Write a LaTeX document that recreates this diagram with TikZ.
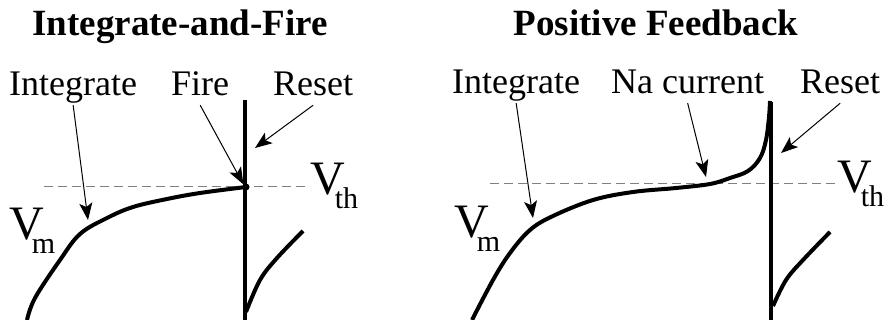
\documentclass[tikz,border=0pt]{standalone}
\usepackage{fontspec}
\setmainfont{Liberation Serif}
\usetikzlibrary{arrows.meta}

\newcommand{\vsub}[2]{V\kern#1\raisebox{-14pt}{\fontsize{30}{32}\selectfont #2}}

\begin{document}
\begin{tikzpicture}[x=1pt,y=-1pt,
  title/.style={font=\fontsize{37}{40}\selectfont\bfseries,inner sep=0pt,anchor=base},
  lbl/.style={font=\fontsize{36}{40}\selectfont,inner xsep=0pt,inner ysep=1pt,
    text depth=8pt,anchor=base west},
  vlbl/.style={font=\fontsize{48}{50}\selectfont,inner sep=0pt,anchor=base west},
  arrow/.style={-{Stealth[length=17pt,width=13pt,inset=4pt]},line width=1pt},
  trace/.style={line width=4pt},
  thresh/.style={gray,line width=1pt,dash pattern=on 9pt off 5pt}]
  \useasboundingbox (0,0) rectangle (885,320);

  % left panel
  \node[title] (tl) at (180,36) {Integrate-and-Fire};
  \draw[thresh] (44,187) -- (310,187);
  \draw[trace] plot[smooth,tension=0.6] coordinates
    {(27,320) (35,298) (60,260) (80,234) (107,218) (133,207) (167,199) (200,193) (246,187)};
  \draw[trace] (245,100) -- (245,320);
  \draw[trace] plot[smooth,tension=0.6] coordinates
    {(246,312) (260,280) (277,258) (303,231)};
  \node[circle,fill,inner sep=0pt,minimum size=7pt] (fire) at (246,187) {};
  \node[lbl] (il) at (9,96) {Integrate};
  \node[lbl] (fl) at (171,96) {Fire};
  \node[lbl] (rl) at (273,96) {Reset};
  \node[vlbl] (vml) at (9,240) {\vsub{-12pt}{m}};
  \node[vlbl] (vtl) at (310,195) {\vsub{-10pt}{th}};
  \coordinate (til) at (88,220);
  \coordinate (trl) at (255,148);
  \draw[arrow] (il.south) -- (til);
  \draw[arrow] (fl.south) -- (fire.north west);
  \draw[arrow] (rl.south) -- (trl);

  % right panel
  \node[title] (tr) at (656,36) {Positive Feedback};
  \draw[thresh] (490,184) -- (836,184);
  \draw[trace] plot[smooth,tension=0.6] coordinates
    {(472,320) (493,280) (510,253) (530,230) (553,216) (593,200) (633,192) (676,188)
     (710,184) (730,178) (748,171) (760,158) (766,140) (769,117) (770,101)};
  \draw[trace] (771,102) -- (771,320);
  \draw[trace] plot[smooth,tension=0.6] coordinates
    {(773,306) (786,280) (803,260) (830,232)};
  \node[lbl] (ir) at (452,94) {Integrate};
  \node[lbl] (nar) at (611,94) {Na current};
  \node[lbl] (rr) at (800,94) {Reset};
  \node[vlbl] (vmr) at (454,237) {\vsub{-12pt}{m}};
  \node[vlbl] (vtr) at (837,193) {\vsub{-11pt}{th}};
  \coordinate (tir) at (533,218);
  \coordinate (tna) at (706,177);
  \coordinate (trr) at (781,153);
  \draw[arrow] (ir.south) -- (tir);
  \draw[arrow] (nar.south) -- (tna);
  \draw[arrow] (rr.south) -- (trr);
\end{tikzpicture}
\end{document}
